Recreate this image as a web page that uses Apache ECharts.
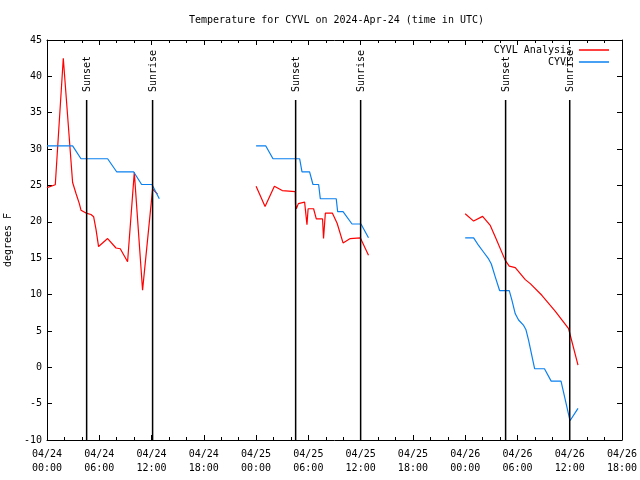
<!DOCTYPE html>
<html><head><meta charset="utf-8">
<script src="https://cdn.jsdelivr.net/npm/echarts@6/dist/echarts.min.js"></script>
<style>html,body{margin:0;padding:0;background:#fff}#c{width:640px;height:480px}</style>
</head><body><div id="c"></div>
<script>
// x values are hours after 2024-04-24 00:00 UTC
const xTickLabels = ['04/24\n00:00','04/24\n06:00','04/24\n12:00','04/24\n18:00','04/25\n00:00','04/25\n06:00','04/25\n12:00','04/25\n18:00','04/26\n00:00','04/26\n06:00','04/26\n12:00','04/26\n18:00'];

const analysisTimes1 = [0, 0.95, 1.87, 2.94, 3.33, 3.71, 3.90, 4.48, 5.05, 5.35, 5.62, 5.92, 6.96, 7.92, 8.41, 9.25, 10.02, 10.97, 12.12, 12.69];
const analysisTemps1 = [24.7, 25.1, 42.5, 25.4, 23.9, 22.5, 21.6, 21.2, 21.0, 20.7, 19.0, 16.6, 17.7, 16.4, 16.3, 14.5, 26.8, 10.6, 24.5, 23.8];
const analysisTimes2 = [24.0, 25.03, 26.1, 27.0, 28.5, 28.52, 28.62, 28.85, 29.0, 29.57, 29.84, 29.97, 30.6, 30.91, 31.63, 31.74, 31.95, 32.75, 33.3, 33.5, 33.98, 34.81, 35.96, 36.9];
const analysisTemps2 = [24.9, 22.1, 24.9, 24.3, 24.15, 22.4, 21.8, 22.5, 22.7, 22.7, 19.6, 21.8, 21.8, 20.4, 20.4, 17.7, 21.2, 21.2, 19.8, 19.7, 17.1, 17.7, 17.8, 15.4];
const analysisTimes3 = [48.0, 48.97, 50.0, 50.88, 51.46, 52.6, 53.06, 53.75, 54.9, 55.47, 56.8, 58.35, 59.87, 60.95];
const analysisTemps3 = [21.1, 20.1, 20.75, 19.5, 17.9, 14.7, 13.9, 13.7, 12.05, 11.5, 9.9, 7.7, 5.3, 0.3];

const obsTimes1 = [0, 2.94, 3.90, 6.96, 7.99, 9.94, 10.86, 12.05, 12.89];
const obsTemps1 = [30.45, 30.45, 28.67, 28.67, 26.88, 26.88, 25.13, 25.13, 23.17];
const obsTimes2 = [24.0, 25.1, 25.94, 29.0, 29.27, 30.14, 30.53, 31.18, 31.37, 33.2, 33.36, 33.98, 35.01, 36.04, 36.9];
const obsTemps2 = [30.45, 30.45, 28.67, 28.67, 26.88, 26.88, 25.13, 25.13, 23.17, 23.17, 21.4, 21.4, 19.7, 19.7, 17.8];
const obsTimes3 = [48.0, 48.97, 49.54, 50.1, 50.69, 51.0, 51.46, 51.95, 53.06, 53.37, 53.75, 54.13, 54.71, 54.98, 55.28, 55.97, 57.1, 57.87, 59.0, 60.03, 60.95];
const obsTemps3 = [17.8, 17.8, 16.75, 15.85, 14.9, 14.2, 12.4, 10.55, 10.55, 9.2, 7.35, 6.5, 5.75, 5.15, 3.7, -0.2, -0.2, -1.9, -1.9, -7.35, -5.65];

const sunTimes = [4.55, 12.12, 28.54, 36.0, 52.64, 60.0];
const sunLabels = ['Sunset', 'Sunrise', 'Sunset', 'Sunrise', 'Sunset', 'Sunrise'];

function pairs(t, v) { return t.map((x, i) => [x, v[i]]); }
function joinSegs(segs) {
  const out = [];
  segs.forEach((s, i) => { if (i > 0) out.push([s[0][0] - 0.01, null]); out.push(...s); });
  return out;
}
const analysisData = joinSegs([pairs(analysisTimes1, analysisTemps1), pairs(analysisTimes2, analysisTemps2), pairs(analysisTimes3, analysisTemps3)]);
const obsData = joinSegs([pairs(obsTimes1, obsTemps1), pairs(obsTimes2, obsTemps2), pairs(obsTimes3, obsTemps3)]);

const FONT = '"DejaVu Sans Mono", "Liberation Mono", monospace';
const chart = echarts.init(document.getElementById('c'), null, {renderer: 'canvas'});
const xCommon = {
  type: 'value', min: 0, max: 66, interval: 6,
  axisLine: {show: true, onZero: false, lineStyle: {color: '#000', width: 1}},
  axisTick: {show: true, inside: true, length: 5, lineStyle: {color: '#000'}},
  minorTick: {show: true, splitNumber: 3, length: 3, lineStyle: {color: '#000'}},
  splitLine: {show: false}, minorSplitLine: {show: false}
};
const yCommon = {
  type: 'value', min: -10, max: 45, interval: 5,
  axisLine: {show: true, onZero: false, lineStyle: {color: '#000', width: 1}},
  axisTick: {show: true, inside: true, length: 5, lineStyle: {color: '#000'}},
  splitLine: {show: false}
};
chart.setOption({
  animation: false,
  backgroundColor: '#fff',
  title: {
    text: 'Temperature for CYVL on 2024-Apr-24 (time in UTC)',
    left: 184, top: 10, padding: 5,
    textStyle: {fontFamily: FONT, fontSize: 10, fontWeight: 'normal', color: '#000'}
  },
  legend: {
    data: ['CYVL Analysis', 'CYVL'],
    orient: 'vertical', right: 31, top: 44, align: 'right', padding: 0,
    icon: 'rect', itemWidth: 30, itemHeight: 1.5, itemGap: 0,
    textStyle: {fontFamily: FONT, fontSize: 10, color: '#000', lineHeight: 12, padding: [0, 2, 0, 0]}
  },
  grid: {left: 47, right: 18, top: 40, bottom: 40, containLabel: false, outerBoundsMode: 'none'},
  xAxis: [
    Object.assign({}, xCommon, {
      position: 'bottom',
      axisLabel: {
        show: true, margin: 7, color: '#000', fontFamily: FONT, fontSize: 10, lineHeight: 14,
        formatter: v => xTickLabels[Math.round(v / 6)] || ''
      }
    }),
    Object.assign({}, xCommon, {position: 'top', axisLabel: {show: false}})
  ],
  yAxis: [
    Object.assign({}, yCommon, {
      position: 'left',
      name: 'degrees F', nameLocation: 'middle', nameRotate: 90, nameGap: 32,
      nameTextStyle: {fontFamily: FONT, fontSize: 10, color: '#000'},
      axisLabel: {show: true, margin: 5, color: '#000', fontFamily: FONT, fontSize: 10}
    }),
    Object.assign({}, yCommon, {position: 'right', axisLabel: {show: false}})
  ],
  series: [
    {
      name: 'CYVL Analysis', type: 'line', data: analysisData, showSymbol: false,
      connectNulls: false, color: '#ff0000', lineStyle: {color: '#ff0000', width: 1.2}, z: 3
    },
    {
      name: 'CYVL', type: 'line', data: obsData, showSymbol: false,
      connectNulls: false, color: '#0a80f0', lineStyle: {color: '#0a80f0', width: 1.2}, z: 3
    },
    {
      name: 'sun', type: 'custom', z: 4,
      data: sunTimes.map(t => [t, 0]),
      encode: {x: 0, y: 1},
      renderItem: function (params, api) {
        const t = api.value(0);
        const top = api.coord([t, 45]);
        const bot = api.coord([t, -10]);
        const x = top[0];
        const lineTop = top[1] + 60;
        return {
          type: 'group',
          children: [
            {type: 'line', shape: {x1: x, y1: lineTop, x2: x, y2: bot[1]}, style: {stroke: '#000', lineWidth: 1.5}},
            {type: 'text', x: x + 1, y: lineTop - 8, rotation: Math.PI / 2,
             style: {text: sunLabels[params.dataIndex], fill: '#000', font: '10px ' + FONT, align: 'left', verticalAlign: 'middle'}}
          ]
        };
      }
    }
  ]
});
</script>
</body></html>
